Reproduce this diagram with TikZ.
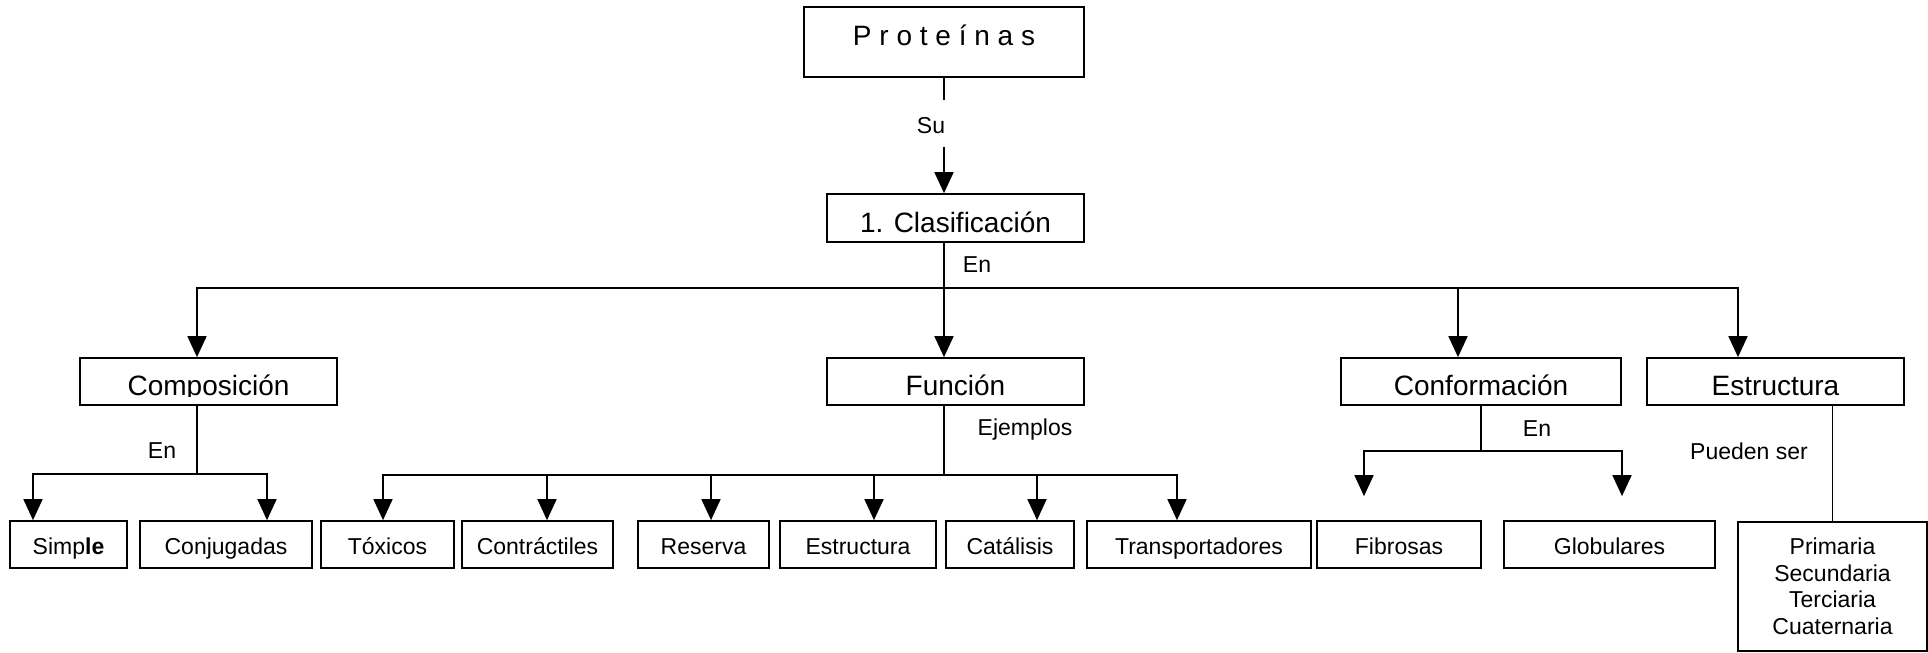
\documentclass[tikz,border=0pt]{standalone}
\usepackage{fontspec}
\setmainfont{Liberation Sans}
\usetikzlibrary{arrows.meta}

\newcommand{\bigtxt}{\fontsize{28}{33}\selectfont}
\newcommand{\smalltxt}{\fontsize{23}{26.5}\selectfont}

\tikzset{
  box/.style={draw, line width=1.7pt, inner sep=0pt, minimum height=0pt},
  bigbox/.style={box, font=\bigtxt, text height=37pt, text depth=10pt},
  leaf/.style={box, font=\smalltxt, text height=33pt, text depth=14pt},
  lbl/.style={font=\smalltxt, inner sep=0pt, anchor=base},
  link/.style={line width=1.7pt},
  arr/.style={link, -{Triangle[length=21pt,width=19pt]}},
}

\begin{document}
\begin{tikzpicture}[x=1pt, y=-1pt]
\useasboundingbox (0,0) rectangle (1928,653);

% top of the map
\node[box, font=\bigtxt, minimum width=280pt, text height=38pt, text depth=32pt]
  (prot) at (944,42) {P r o t e í n a s};
\node[box, font=\bigtxt, minimum width=257pt, text height=38pt, text depth=10pt]
  (clas) at (955.5,218) {1. Clasificación};

% second level
\node[bigbox, minimum width=257pt] (comp) at (208.5,381.5) {};
\node[bigbox, minimum width=257pt] (fun)  at (955.5,381.5) {Función};
\node[bigbox, minimum width=280pt] (conf) at (1481,381.5) {Conformación};
\node[bigbox, minimum width=257pt] (estr) at (1775.5,381.5) {Estructura};

% the heading of this box is cut off at its baseline
\begin{scope}
  \clip ([yshift=47pt]comp.south west) rectangle ([yshift=9pt]comp.south east);
  \node[font=\bigtxt, inner sep=0pt, anchor=base] (compt) at (208.5,395) {Composición};
\end{scope}

% third level
\node[leaf, minimum width=117pt] (simp) at (68.5,544.5)  {Simp\textbf{le}};
\node[leaf, minimum width=172pt] (conj) at (226,544.5)   {Conjugadas};
\node[leaf, minimum width=133pt] (tox)  at (387.5,544.5) {Tóxicos};
\node[leaf, minimum width=151pt] (cont) at (537.5,544.5) {Contráctiles};
\node[leaf, minimum width=131pt] (res)  at (703.5,544.5) {Reserva};
\node[leaf, minimum width=156pt] (est)  at (858,544.5)   {Estructura};
\node[leaf, minimum width=128pt] (cat)  at (1010,544.5)  {Catálisis};
\node[leaf, minimum width=224pt] (tra)  at (1199,544.5)  {Transportadores};
\node[leaf, minimum width=164pt] (fib)  at (1399,544.5)  {Fibrosas};
\node[leaf, minimum width=211pt] (glob) at (1609.5,544.5) {Globulares};
\node[box, font=\smalltxt, align=center, minimum width=189pt, minimum height=129pt]
  (prim) at (1832.5,586.5) {Primaria\\Secundaria\\Terciaria\\Cuaternaria};

% linking words
\node[lbl, text height=33pt, text depth=14pt] (su) at (931,133) {Su};
\node[lbl] (en1) at (977,272) {En};
\node[lbl] (en2) at (162,458) {En};
\node[lbl] (ej)  at (1025,435) {Ejemplos};
\node[lbl] (en3) at (1537,436) {En};
\node[lbl] (ps)  at (1749,459) {Pueden ser};

% guide coordinates
\coordinate (xs) at (944,0);
\coordinate (xc) at (197,0);
\coordinate (xq) at (1458,0);
\coordinate (xe) at (1738,0);
\coordinate (busA) at (944,288);
\coordinate (busC) at (197,474);
\coordinate (busF) at (944,475);
\coordinate (busQ) at (1481,451);

% Proteínas -> Clasificación
\draw[link] (prot.south) -- (prot.south |- su.north);
\draw[arr] (prot.south |- su.south) -- (xs |- clas.north);

% Clasificación -> four criteria
\draw[arr] (xs |- clas.south) -- (xs |- fun.north);
\draw[arr] (busA) -| (xc |- comp.north);
\draw[arr] (busA) -| (xe |- estr.north);
\draw[arr] (xq |- busA) -- (xq |- conf.north);

% Composición
\draw[link] (xc |- comp.south) -- (busC);
\draw[arr] (busC) -| ([xshift=-35.5pt]simp.north);
\draw[arr] (busC) -| ([xshift=41pt]conj.north);

% Función
\draw[link] (xs |- fun.south) -- (busF);
\draw[arr] (busF) -| ([xshift=-4.5pt]tox.north);
\draw[arr] (busF) -| ([xshift=9.5pt]cont.north);
\draw[arr] (busF) -| ([xshift=7.5pt]res.north);
\draw[arr] (busF) -| ([xshift=16pt]est.north);
\draw[arr] (busF) -| ([xshift=27pt]cat.north);
\draw[arr] (busF) -| ([xshift=-22pt]tra.north);

% Conformación
\draw[link] (conf.south) -- (busQ);
\draw[arr] (busQ) -| ([xshift=-35pt,yshift=24pt]fib.north);
\draw[arr] (busQ) -| ([xshift=12.5pt,yshift=24pt]glob.north);

% Estructura
\draw[link] (prim.north |- estr.south) -- (prim.north);
\end{tikzpicture}
\end{document}
